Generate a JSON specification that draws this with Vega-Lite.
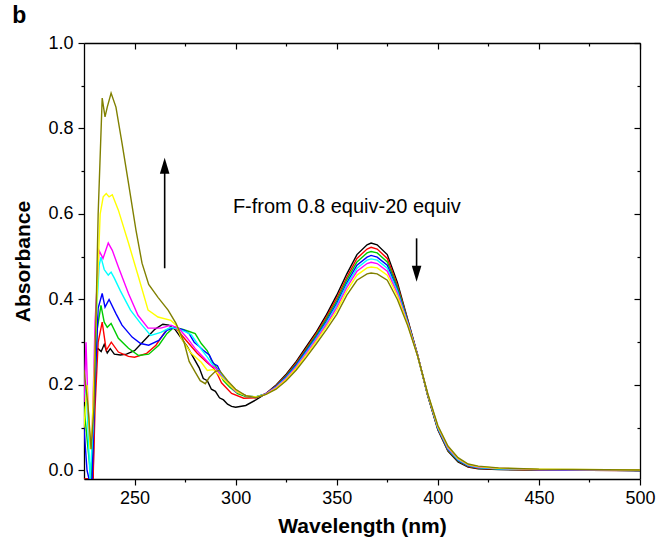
{
"$schema": "https://vega.github.io/schema/vega-lite/v6.json",
"width": 556, "height": 436,
"autosize": "none",
"padding": {"left": 84, "top": 43, "right": 17, "bottom": 62},
"background": "white",
"config": {
  "view": {"stroke": null},
  "axis": {"domainColor": "black", "domainWidth": 1.3, "tickColor": "black", "tickWidth": 1.2, "labelColor": "black", "titleColor": "black", "labelFont": "Liberation Sans", "titleFont": "Liberation Sans", "labelFontSize": 18, "titleFontSize": 21, "titleFontWeight": "bold", "grid": false, "labelOverlap": false, "labelFlush": false, "labelBound": false}
},
"datasets": {
"spec": [
{"s":"black","w":225,"a":-0.02},{"s":"black","w":229.5,"a":-0.02},{"s":"black","w":230.5,"a":0.28},{"s":"black","w":232,"a":0.285},{"s":"black","w":233.5,"a":0.278},{"s":"black","w":235,"a":0.295},{"s":"black","w":236.5,"a":0.275},{"s":"black","w":238,"a":0.285},{"s":"black","w":240,"a":0.272},{"s":"black","w":243,"a":0.27},{"s":"black","w":246,"a":0.272},{"s":"black","w":250,"a":0.28},{"s":"black","w":255,"a":0.305},{"s":"black","w":260,"a":0.33},{"s":"black","w":264,"a":0.342},{"s":"black","w":267,"a":0.34},{"s":"black","w":270,"a":0.33},{"s":"black","w":273,"a":0.31},{"s":"black","w":276,"a":0.29},{"s":"black","w":279,"a":0.265},{"s":"black","w":282,"a":0.24},{"s":"black","w":284,"a":0.215},{"s":"black","w":286,"a":0.21},{"s":"black","w":288,"a":0.19},{"s":"black","w":290,"a":0.185},{"s":"black","w":292,"a":0.17},{"s":"black","w":294,"a":0.165},{"s":"black","w":296,"a":0.155},{"s":"black","w":298,"a":0.15},{"s":"black","w":300,"a":0.148},{"s":"black","w":305,"a":0.152},{"s":"black","w":310,"a":0.165},{"s":"black","w":315,"a":0.18},{"s":"black","w":320,"a":0.2},{"s":"black","w":325,"a":0.225},{"s":"black","w":330,"a":0.255},{"s":"black","w":335,"a":0.29},{"s":"black","w":340,"a":0.325},{"s":"black","w":345,"a":0.365},{"s":"black","w":350,"a":0.41},{"s":"black","w":355,"a":0.46},{"s":"black","w":360,"a":0.505},{"s":"black","w":365,"a":0.528},{"s":"black","w":367,"a":0.532},{"s":"black","w":370,"a":0.528},{"s":"black","w":375,"a":0.505},{"s":"black","w":380,"a":0.44},{"s":"black","w":385,"a":0.355},{"s":"black","w":390,"a":0.27},{"s":"black","w":395,"a":0.175},{"s":"black","w":400,"a":0.095},{"s":"black","w":405,"a":0.045},{"s":"black","w":410,"a":0.02},{"s":"black","w":415,"a":0.008},{"s":"black","w":420,"a":0.004},{"s":"black","w":430,"a":0.002},{"s":"black","w":450,"a":0.001},{"s":"black","w":500,"a":0.0},

{"s":"red","w":225,"a":-0.02},{"s":"red","w":229.5,"a":-0.02},{"s":"red","w":230.5,"a":0.15},{"s":"red","w":232,"a":0.3},{"s":"red","w":234,"a":0.347},{"s":"red","w":236,"a":0.281},{"s":"red","w":238.5,"a":0.3},{"s":"red","w":242,"a":0.277},{"s":"red","w":247,"a":0.267},{"s":"red","w":250,"a":0.265},{"s":"red","w":256,"a":0.274},{"s":"red","w":260.6,"a":0.293},{"s":"red","w":265.6,"a":0.328},{"s":"red","w":268,"a":0.335},{"s":"red","w":271,"a":0.33},{"s":"red","w":274.5,"a":0.31},{"s":"red","w":281,"a":0.274},{"s":"red","w":286,"a":0.252},{"s":"red","w":289,"a":0.24},{"s":"red","w":291,"a":0.225},{"s":"red","w":293,"a":0.205},{"s":"red","w":298,"a":0.18},{"s":"red","w":304,"a":0.169},{"s":"red","w":310,"a":0.17},{"s":"red","w":315,"a":0.18},{"s":"red","w":320,"a":0.198},{"s":"red","w":325,"a":0.223},{"s":"red","w":330,"a":0.252},{"s":"red","w":335,"a":0.286},{"s":"red","w":340,"a":0.321},{"s":"red","w":345,"a":0.36},{"s":"red","w":350,"a":0.403},{"s":"red","w":355,"a":0.452},{"s":"red","w":360,"a":0.496},{"s":"red","w":365,"a":0.518},{"s":"red","w":367,"a":0.522},{"s":"red","w":370,"a":0.518},{"s":"red","w":375,"a":0.496},{"s":"red","w":380,"a":0.434},{"s":"red","w":385,"a":0.353},{"s":"red","w":390,"a":0.27},{"s":"red","w":395,"a":0.176},{"s":"red","w":400,"a":0.097},{"s":"red","w":405,"a":0.047},{"s":"red","w":410,"a":0.022},{"s":"red","w":415,"a":0.009},{"s":"red","w":420,"a":0.005},{"s":"red","w":430,"a":0.003},{"s":"red","w":450,"a":0.001},{"s":"red","w":500,"a":0.0},

{"s":"green","w":225,"a":0.15},{"s":"green","w":227,"a":0.05},{"s":"green","w":228.5,"a":-0.02},{"s":"green","w":229.5,"a":0.1},{"s":"green","w":231.5,"a":0.33},{"s":"green","w":233.4,"a":0.386},{"s":"green","w":235,"a":0.347},{"s":"green","w":236.5,"a":0.335},{"s":"green","w":238.4,"a":0.344},{"s":"green","w":242,"a":0.309},{"s":"green","w":247,"a":0.286},{"s":"green","w":252,"a":0.269},{"s":"green","w":257,"a":0.272},{"s":"green","w":262,"a":0.293},{"s":"green","w":266,"a":0.32},{"s":"green","w":269.5,"a":0.335},{"s":"green","w":274,"a":0.33},{"s":"green","w":277,"a":0.325},{"s":"green","w":280,"a":0.32},{"s":"green","w":283,"a":0.297},{"s":"green","w":286,"a":0.28},{"s":"green","w":288,"a":0.258},{"s":"green","w":290,"a":0.245},{"s":"green","w":294,"a":0.21},{"s":"green","w":297,"a":0.195},{"s":"green","w":301,"a":0.18},{"s":"green","w":305,"a":0.173},{"s":"green","w":310,"a":0.172},{"s":"green","w":315,"a":0.179},{"s":"green","w":320,"a":0.197},{"s":"green","w":325,"a":0.221},{"s":"green","w":330,"a":0.249},{"s":"green","w":335,"a":0.283},{"s":"green","w":340,"a":0.317},{"s":"green","w":345,"a":0.355},{"s":"green","w":350,"a":0.397},{"s":"green","w":355,"a":0.446},{"s":"green","w":360,"a":0.488},{"s":"green","w":365,"a":0.509},{"s":"green","w":367,"a":0.512},{"s":"green","w":370,"a":0.509},{"s":"green","w":375,"a":0.488},{"s":"green","w":380,"a":0.429},{"s":"green","w":385,"a":0.351},{"s":"green","w":390,"a":0.269},{"s":"green","w":395,"a":0.176},{"s":"green","w":400,"a":0.098},{"s":"green","w":405,"a":0.048},{"s":"green","w":410,"a":0.023},{"s":"green","w":415,"a":0.01},{"s":"green","w":420,"a":0.006},{"s":"green","w":430,"a":0.003},{"s":"green","w":450,"a":0.002},{"s":"green","w":500,"a":0.0},

{"s":"blue","w":225,"a":0.1},{"s":"blue","w":226.5,"a":0.0},{"s":"blue","w":227.5,"a":-0.02},{"s":"blue","w":229,"a":-0.02},{"s":"blue","w":230.5,"a":0.2},{"s":"blue","w":232,"a":0.38},{"s":"blue","w":234,"a":0.414},{"s":"blue","w":235.4,"a":0.382},{"s":"blue","w":237.4,"a":0.4},{"s":"blue","w":240.8,"a":0.367},{"s":"blue","w":243.8,"a":0.34},{"s":"blue","w":248.8,"a":0.312},{"s":"blue","w":253,"a":0.297},{"s":"blue","w":257,"a":0.293},{"s":"blue","w":262,"a":0.304},{"s":"blue","w":266,"a":0.328},{"s":"blue","w":270,"a":0.335},{"s":"blue","w":274.5,"a":0.328},{"s":"blue","w":277,"a":0.32},{"s":"blue","w":279.5,"a":0.3},{"s":"blue","w":282,"a":0.29},{"s":"blue","w":284,"a":0.281},{"s":"blue","w":287,"a":0.27},{"s":"blue","w":289,"a":0.25},{"s":"blue","w":291,"a":0.245},{"s":"blue","w":294,"a":0.215},{"s":"blue","w":297,"a":0.2},{"s":"blue","w":301,"a":0.183},{"s":"blue","w":305,"a":0.175},{"s":"blue","w":310,"a":0.172},{"s":"blue","w":315,"a":0.179},{"s":"blue","w":320,"a":0.196},{"s":"blue","w":325,"a":0.219},{"s":"blue","w":330,"a":0.247},{"s":"blue","w":335,"a":0.28},{"s":"blue","w":340,"a":0.313},{"s":"blue","w":345,"a":0.35},{"s":"blue","w":350,"a":0.391},{"s":"blue","w":355,"a":0.439},{"s":"blue","w":360,"a":0.48},{"s":"blue","w":365,"a":0.499},{"s":"blue","w":367,"a":0.503},{"s":"blue","w":370,"a":0.499},{"s":"blue","w":375,"a":0.48},{"s":"blue","w":380,"a":0.423},{"s":"blue","w":385,"a":0.349},{"s":"blue","w":390,"a":0.269},{"s":"blue","w":395,"a":0.177},{"s":"blue","w":400,"a":0.099},{"s":"blue","w":405,"a":0.05},{"s":"blue","w":410,"a":0.024},{"s":"blue","w":415,"a":0.011},{"s":"blue","w":420,"a":0.007},{"s":"blue","w":430,"a":0.004},{"s":"blue","w":450,"a":0.002},{"s":"blue","w":500,"a":0.0},

{"s":"cyan","w":225,"a":0.22},{"s":"cyan","w":226.5,"a":0.15},{"s":"cyan","w":228,"a":-0.02},{"s":"cyan","w":229.5,"a":0.1},{"s":"cyan","w":231,"a":0.35},{"s":"cyan","w":232.5,"a":0.48},{"s":"cyan","w":233.4,"a":0.499},{"s":"cyan","w":235,"a":0.47},{"s":"cyan","w":237,"a":0.457},{"s":"cyan","w":238.4,"a":0.464},{"s":"cyan","w":240,"a":0.45},{"s":"cyan","w":243,"a":0.42},{"s":"cyan","w":248,"a":0.375},{"s":"cyan","w":253,"a":0.344},{"s":"cyan","w":258,"a":0.316},{"s":"cyan","w":263,"a":0.323},{"s":"cyan","w":268,"a":0.335},{"s":"cyan","w":272,"a":0.33},{"s":"cyan","w":275,"a":0.325},{"s":"cyan","w":278,"a":0.318},{"s":"cyan","w":282,"a":0.29},{"s":"cyan","w":286,"a":0.265},{"s":"cyan","w":289,"a":0.245},{"s":"cyan","w":292,"a":0.23},{"s":"cyan","w":296,"a":0.205},{"s":"cyan","w":300,"a":0.185},{"s":"cyan","w":305,"a":0.175},{"s":"cyan","w":310,"a":0.172},{"s":"cyan","w":315,"a":0.179},{"s":"cyan","w":320,"a":0.195},{"s":"cyan","w":325,"a":0.217},{"s":"cyan","w":330,"a":0.244},{"s":"cyan","w":335,"a":0.277},{"s":"cyan","w":340,"a":0.31},{"s":"cyan","w":345,"a":0.346},{"s":"cyan","w":350,"a":0.386},{"s":"cyan","w":355,"a":0.434},{"s":"cyan","w":360,"a":0.473},{"s":"cyan","w":365,"a":0.492},{"s":"cyan","w":367,"a":0.495},{"s":"cyan","w":370,"a":0.492},{"s":"cyan","w":375,"a":0.473},{"s":"cyan","w":380,"a":0.419},{"s":"cyan","w":385,"a":0.347},{"s":"cyan","w":390,"a":0.269},{"s":"cyan","w":395,"a":0.178},{"s":"cyan","w":400,"a":0.1},{"s":"cyan","w":405,"a":0.051},{"s":"cyan","w":410,"a":0.025},{"s":"cyan","w":415,"a":0.012},{"s":"cyan","w":420,"a":0.007},{"s":"cyan","w":430,"a":0.004},{"s":"cyan","w":450,"a":0.002},{"s":"cyan","w":500,"a":0.001},

{"s":"magenta","w":225,"a":0.16},{"s":"magenta","w":226,"a":0.3},{"s":"magenta","w":227,"a":0.15},{"s":"magenta","w":228,"a":0.06},{"s":"magenta","w":229,"a":0.08},{"s":"magenta","w":230.5,"a":0.35},{"s":"magenta","w":232.4,"a":0.515},{"s":"magenta","w":234.4,"a":0.496},{"s":"magenta","w":237,"a":0.532},{"s":"magenta","w":239,"a":0.515},{"s":"magenta","w":242,"a":0.476},{"s":"magenta","w":247,"a":0.414},{"s":"magenta","w":251.7,"a":0.363},{"s":"magenta","w":256.7,"a":0.333},{"s":"magenta","w":263,"a":0.333},{"s":"magenta","w":268,"a":0.34},{"s":"magenta","w":272,"a":0.332},{"s":"magenta","w":276,"a":0.31},{"s":"magenta","w":280,"a":0.285},{"s":"magenta","w":284,"a":0.265},{"s":"magenta","w":288,"a":0.245},{"s":"magenta","w":290,"a":0.24},{"s":"magenta","w":293,"a":0.22},{"s":"magenta","w":297,"a":0.2},{"s":"magenta","w":300,"a":0.185},{"s":"magenta","w":305,"a":0.175},{"s":"magenta","w":310,"a":0.17},{"s":"magenta","w":315,"a":0.179},{"s":"magenta","w":320,"a":0.194},{"s":"magenta","w":325,"a":0.215},{"s":"magenta","w":330,"a":0.242},{"s":"magenta","w":335,"a":0.274},{"s":"magenta","w":340,"a":0.307},{"s":"magenta","w":345,"a":0.342},{"s":"magenta","w":350,"a":0.381},{"s":"magenta","w":355,"a":0.428},{"s":"magenta","w":360,"a":0.466},{"s":"magenta","w":365,"a":0.484},{"s":"magenta","w":367,"a":0.487},{"s":"magenta","w":370,"a":0.484},{"s":"magenta","w":375,"a":0.466},{"s":"magenta","w":380,"a":0.414},{"s":"magenta","w":385,"a":0.345},{"s":"magenta","w":390,"a":0.269},{"s":"magenta","w":395,"a":0.178},{"s":"magenta","w":400,"a":0.102},{"s":"magenta","w":405,"a":0.053},{"s":"magenta","w":410,"a":0.027},{"s":"magenta","w":415,"a":0.013},{"s":"magenta","w":420,"a":0.008},{"s":"magenta","w":430,"a":0.005},{"s":"magenta","w":450,"a":0.002},{"s":"magenta","w":500,"a":0.001},

{"s":"yellow","w":225,"a":0.1},{"s":"yellow","w":226.5,"a":0.2},{"s":"yellow","w":228,"a":0.05},{"s":"yellow","w":229,"a":0.1},{"s":"yellow","w":231,"a":0.35},{"s":"yellow","w":233,"a":0.6},{"s":"yellow","w":234.5,"a":0.64},{"s":"yellow","w":236,"a":0.648},{"s":"yellow","w":237.4,"a":0.64},{"s":"yellow","w":239,"a":0.645},{"s":"yellow","w":242,"a":0.609},{"s":"yellow","w":247,"a":0.532},{"s":"yellow","w":252,"a":0.452},{"s":"yellow","w":256.7,"a":0.375},{"s":"yellow","w":261.6,"a":0.359},{"s":"yellow","w":268,"a":0.351},{"s":"yellow","w":271,"a":0.338},{"s":"yellow","w":273,"a":0.31},{"s":"yellow","w":278,"a":0.274},{"s":"yellow","w":283,"a":0.253},{"s":"yellow","w":286,"a":0.234},{"s":"yellow","w":289,"a":0.236},{"s":"yellow","w":293,"a":0.218},{"s":"yellow","w":297,"a":0.2},{"s":"yellow","w":301,"a":0.183},{"s":"yellow","w":305,"a":0.175},{"s":"yellow","w":310,"a":0.172},{"s":"yellow","w":315,"a":0.178},{"s":"yellow","w":320,"a":0.192},{"s":"yellow","w":325,"a":0.213},{"s":"yellow","w":330,"a":0.239},{"s":"yellow","w":335,"a":0.27},{"s":"yellow","w":340,"a":0.303},{"s":"yellow","w":345,"a":0.337},{"s":"yellow","w":350,"a":0.374},{"s":"yellow","w":355,"a":0.42},{"s":"yellow","w":360,"a":0.457},{"s":"yellow","w":365,"a":0.474},{"s":"yellow","w":367,"a":0.476},{"s":"yellow","w":370,"a":0.474},{"s":"yellow","w":375,"a":0.457},{"s":"yellow","w":380,"a":0.408},{"s":"yellow","w":385,"a":0.343},{"s":"yellow","w":390,"a":0.268},{"s":"yellow","w":395,"a":0.179},{"s":"yellow","w":400,"a":0.103},{"s":"yellow","w":405,"a":0.055},{"s":"yellow","w":410,"a":0.028},{"s":"yellow","w":415,"a":0.014},{"s":"yellow","w":420,"a":0.009},{"s":"yellow","w":430,"a":0.005},{"s":"yellow","w":450,"a":0.003},{"s":"yellow","w":500,"a":0.001},

{"s":"olive","w":225,"a":0.235},{"s":"olive","w":227,"a":0.15},{"s":"olive","w":228.5,"a":0.05},{"s":"olive","w":230,"a":0.15},{"s":"olive","w":232,"a":0.6},{"s":"olive","w":234,"a":0.871},{"s":"olive","w":235.4,"a":0.827},{"s":"olive","w":236.5,"a":0.85},{"s":"olive","w":238.4,"a":0.883},{"s":"olive","w":240.8,"a":0.85},{"s":"olive","w":243.8,"a":0.766},{"s":"olive","w":247,"a":0.672},{"s":"olive","w":250.7,"a":0.562},{"s":"olive","w":253.7,"a":0.485},{"s":"olive","w":257,"a":0.435},{"s":"olive","w":261.6,"a":0.405},{"s":"olive","w":266.6,"a":0.375},{"s":"olive","w":270.5,"a":0.344},{"s":"olive","w":274.5,"a":0.3},{"s":"olive","w":277,"a":0.255},{"s":"olive","w":280,"a":0.23},{"s":"olive","w":282.5,"a":0.21},{"s":"olive","w":285,"a":0.203},{"s":"olive","w":287,"a":0.218},{"s":"olive","w":290,"a":0.232},{"s":"olive","w":292,"a":0.234},{"s":"olive","w":296,"a":0.21},{"s":"olive","w":300,"a":0.19},{"s":"olive","w":305,"a":0.175},{"s":"olive","w":310,"a":0.17},{"s":"olive","w":315,"a":0.178},{"s":"olive","w":320,"a":0.19},{"s":"olive","w":325,"a":0.21},{"s":"olive","w":330,"a":0.235},{"s":"olive","w":335,"a":0.265},{"s":"olive","w":340,"a":0.297},{"s":"olive","w":345,"a":0.33},{"s":"olive","w":350,"a":0.365},{"s":"olive","w":355,"a":0.41},{"s":"olive","w":360,"a":0.445},{"s":"olive","w":365,"a":0.46},{"s":"olive","w":367,"a":0.462},{"s":"olive","w":370,"a":0.46},{"s":"olive","w":375,"a":0.445},{"s":"olive","w":380,"a":0.4},{"s":"olive","w":385,"a":0.34},{"s":"olive","w":390,"a":0.268},{"s":"olive","w":395,"a":0.18},{"s":"olive","w":400,"a":0.105},{"s":"olive","w":405,"a":0.057},{"s":"olive","w":410,"a":0.03},{"s":"olive","w":415,"a":0.015},{"s":"olive","w":420,"a":0.01},{"s":"olive","w":430,"a":0.006},{"s":"olive","w":450,"a":0.003},{"s":"olive","w":500,"a":0.001}
]
},
"layer": [
{
  "data": {"name": "spec"},
  "mark": {"type": "line", "strokeWidth": 1.4, "clip": true},
  "encoding": {
    "x": {"field": "w", "type": "quantitative", "scale": {"domain": [225, 500], "nice": false, "zero": false},
      "axis": {"orient": "bottom", "title": "Wavelength (nm)", "values": [250,275,300,325,350,375,400,425,450,475,500],
        "labelExpr": "datum.value % 50 === 0 ? datum.label : ''",
        "tickSize": {"condition": {"test": "datum.value % 50 === 0", "value": 6}, "value": 3},
        "labelPadding": 4, "titlePadding": 8}},
    "y": {"field": "a", "type": "quantitative", "scale": {"domain": [-0.02, 1.0], "nice": false, "zero": false},
      "axis": {"orient": "left", "title": "Absorbance", "values": [0,0.1,0.2,0.3,0.4,0.5,0.6,0.7,0.8,0.9,1.0],
        "labelExpr": "round(datum.value*10) % 2 === 0 ? format(datum.value, '.1f') : ''",
        "tickSize": {"condition": {"test": "round(datum.value*10) % 2 === 0", "value": 6}, "value": 3},
        "labelPadding": 5, "titlePadding": 14}},
    "color": {"field": "s", "type": "nominal", "legend": null,
      "scale": {"domain": ["black","red","green","blue","cyan","magenta","yellow","olive"],
                "range": ["#000000","#ff0000","#00cc00","#0000ff","#00ffff","#ff00ff","#ffff00","#808000"]}}
  }
},
{
  "data": {"name": "spec"},
  "mark": {"type": "point", "opacity": 0},
  "encoding": {
    "x": {"field": "w", "type": "quantitative", "scale": {"domain": [225, 500], "nice": false, "zero": false},
      "axis": {"orient": "top", "title": null, "labels": false, "values": [250,275,300,325,350,375,400,425,450,475,500],
        "tickSize": {"condition": {"test": "datum.value % 50 === 0", "value": -6}, "value": -3}}},
    "y": {"field": "a", "type": "quantitative", "scale": {"domain": [-0.02, 1.0], "nice": false, "zero": false},
      "axis": {"orient": "right", "title": null, "labels": false, "values": [0,0.1,0.2,0.3,0.4,0.5,0.6,0.7,0.8,0.9,1.0],
        "tickSize": {"condition": {"test": "round(datum.value*10) % 2 === 0", "value": -6}, "value": -3}}}
  }
},
{
  "data": {"values": [{"w": 355, "a": 0.616, "t": "F-from 0.8 equiv-20 equiv"}]},
  "mark": {"type": "text", "fontSize": 20, "font": "Liberation Sans", "color": "black", "align": "center", "baseline": "middle"},
  "encoding": {
    "x": {"field": "w", "type": "quantitative", "scale": {"domain": [225, 500], "nice": false, "zero": false}, "axis": null},
    "y": {"field": "a", "type": "quantitative", "scale": {"domain": [-0.02, 1.0], "nice": false, "zero": false}, "axis": null},
    "text": {"field": "t"}
  }
},
{
  "data": {"values": [{"w": 193, "a": 1.062, "t": "b"}]},
  "mark": {"type": "text", "fontSize": 23, "fontWeight": "bold", "font": "Liberation Sans", "color": "black", "align": "center", "baseline": "middle", "clip": false},
  "encoding": {
    "x": {"field": "w", "type": "quantitative", "scale": {"domain": [225, 500], "nice": false, "zero": false}, "axis": null},
    "y": {"field": "a", "type": "quantitative", "scale": {"domain": [-0.02, 1.0], "nice": false, "zero": false}, "axis": null},
    "text": {"field": "t"}
  }
},
{
  "data": {"values": [{"w": 264.9, "a1": 0.473, "a2": 0.71}, {"w": 389.5, "a1": 0.543, "a2": 0.47}]},
  "mark": {"type": "rule", "strokeWidth": 1.6, "color": "black"},
  "encoding": {
    "x": {"field": "w", "type": "quantitative", "scale": {"domain": [225, 500], "nice": false, "zero": false}, "axis": null},
    "y": {"field": "a1", "type": "quantitative", "scale": {"domain": [-0.02, 1.0], "nice": false, "zero": false}, "axis": null},
    "y2": {"field": "a2"}
  }
},
{
  "data": {"values": [{"w": 264.9, "a": 0.713, "dir": "up"}, {"w": 389.5, "a": 0.46, "dir": "down"}]},
  "mark": {"type": "point", "filled": true, "color": "black", "opacity": 1, "size": 256, "strokeWidth": 0},
  "encoding": {
    "x": {"field": "w", "type": "quantitative", "scale": {"domain": [225, 500], "nice": false, "zero": false}, "axis": null},
    "y": {"field": "a", "type": "quantitative", "scale": {"domain": [-0.02, 1.0], "nice": false, "zero": false}, "axis": null},
    "shape": {"field": "dir", "type": "nominal", "legend": null,
      "scale": {"domain": ["up", "down"], "range": ["M-0.6,1L0,-1L0.6,1Z", "M-0.6,-1L0,1L0.6,-1Z"]}}
  }
}
],
"resolve": {"axis": {"x": "independent", "y": "independent"}}
}
